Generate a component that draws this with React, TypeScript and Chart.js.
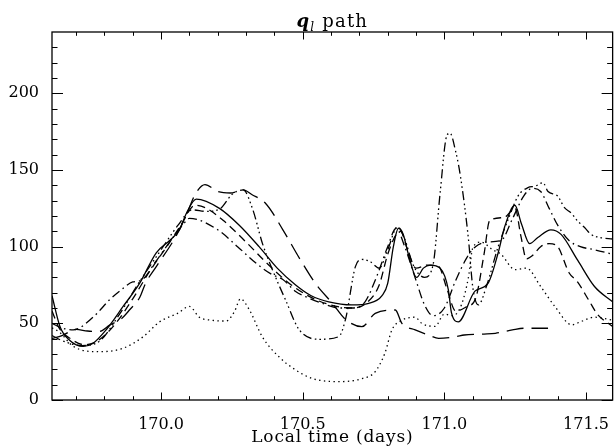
import React, { useEffect, useRef } from "react";
import { Chart, registerables } from "chart.js";

Chart.register(...registerables);

// ---- axis setup ----
const xMin = 169.615;
const xMax = 171.594;
const yMin = 0;
const yMax = 240;
const xTickVals = [170.0, 170.5, 171.0, 171.5];
const yTickVals = [0, 50, 100, 150, 200];
const xMinorVals = [169.7, 169.8, 169.9, 170.1, 170.2, 170.3, 170.4, 170.6, 170.7, 170.8, 170.9, 171.1, 171.2, 171.3, 171.4, 171.5];
const yMinorVals = [10, 20, 30, 40, 60, 70, 80, 90, 110, 120, 130, 140, 160, 170, 180, 190, 210, 220, 230];

const titleMain = "q";
const titleSub = "l";
const titleRest = " path";
const xTitle = "Local time (days)";

// ---- series: solid ----
const solidDays = [169.615, 169.643, 169.677, 169.725, 169.76, 169.807, 169.866, 169.924, 169.983, 170.03, 170.065, 170.09, 170.124, 170.206, 170.276, 170.346, 170.41, 170.475, 170.53, 170.592, 170.673, 170.733, 170.78, 170.8, 170.82, 170.838, 170.855, 170.873, 170.902, 170.926, 170.95, 170.985, 171.014, 171.025, 171.049, 171.108, 171.154, 171.19, 171.213, 171.249, 171.272, 171.301, 171.33, 171.376, 171.412, 171.471, 171.53, 171.594];
const solidVals = [68, 48, 39, 35, 37, 46, 61, 76, 96, 104, 111, 122, 131, 125, 114, 100, 86, 75, 68, 64, 62, 63, 68, 76, 100, 112, 108, 95, 80, 86, 88, 86, 72, 57, 51, 71, 76, 96, 113, 127, 115, 102, 106, 111, 108, 91, 74, 64];

// ---- series: dotted ----
const dottedDays = [169.615, 169.643, 169.69, 169.78, 169.865, 169.935, 169.995, 170.058, 170.1, 170.135, 170.18, 170.23, 170.26, 170.28, 170.311, 170.358, 170.417, 170.475, 170.534, 170.627, 170.71, 170.756, 170.79, 170.815, 170.85, 170.897, 170.92, 170.967, 171.0, 171.03, 171.06, 171.085, 171.1, 171.13, 171.17, 171.2, 171.25, 171.29, 171.34, 171.39, 171.45, 171.48, 171.53, 171.594];
const dottedVals = [47, 44, 35, 31.5, 33.7, 41, 51, 56.5, 61, 54, 52, 51.5, 58, 66, 59, 41, 28, 19.6, 14, 12, 14, 18.5, 30.5, 45.7, 52, 54, 50, 48, 56, 55, 62, 80, 99, 103, 98, 95, 85, 86, 74, 61, 49, 51, 54, 52];

// ---- series: dashed ----
const dashedDays = [169.615, 169.64, 169.68, 169.73, 169.78, 169.84, 169.9, 169.96, 170.02, 170.07, 170.12, 170.16, 170.22, 170.3, 170.38, 170.46, 170.54, 170.62, 170.68, 170.73, 170.77, 170.8, 170.83, 170.845, 170.87, 170.9, 170.94, 170.98, 171.01, 171.04, 171.08, 171.11, 171.14, 171.16, 171.21, 171.25, 171.27, 171.29, 171.31, 171.34, 171.37, 171.4, 171.44, 171.47, 171.51, 171.54, 171.594];
const dashedVals = [58, 47, 40, 36, 39, 50, 66, 84, 100, 114, 127, 125, 117, 103, 88, 75, 66, 61, 60, 64, 75, 95, 108, 110, 98, 86, 88, 87, 72, 58, 61, 66, 95, 117, 119, 125, 107, 92, 94, 100, 102, 100, 83, 77, 65, 56, 48];

// ---- series: dash-dot ----
const dashDotDays = [169.615, 169.65, 169.69, 169.76, 169.82, 169.866, 169.9, 169.93, 169.98, 170.03, 170.08, 170.1, 170.2, 170.27, 170.34, 170.39, 170.43, 170.475, 170.51, 170.57, 170.63, 170.68, 170.72, 170.76, 170.8, 170.83, 170.86, 170.9, 170.93, 170.96, 171.0, 171.04, 171.08, 171.11, 171.15, 171.2, 171.24, 171.28, 171.31, 171.34, 171.37, 171.4, 171.44, 171.48, 171.53, 171.594];
const dashDotVals = [50, 47, 45.7, 54, 65.7, 72.8, 77, 78, 90, 103, 115, 118.5, 111, 100, 88.5, 82, 78.6, 70.7, 67.4, 63, 60, 60, 64, 80, 100, 112, 100, 78, 62, 55, 60, 78, 93, 100, 103, 104, 118, 133, 138, 136, 125, 114, 104, 100, 98, 95];

// ---- series: dash-dot-dot-dot ----
const dash3DotDays = [169.615, 169.66, 169.72, 169.78, 169.85, 169.92, 170.0, 170.06, 170.11, 170.16, 170.21, 170.25, 170.29, 170.323, 170.358, 170.393, 170.44, 170.487, 170.557, 170.627, 170.651, 170.686, 170.709, 170.74, 170.77, 170.8, 170.835, 170.86, 170.89, 170.93, 170.96, 170.985, 171.008, 171.02, 171.04, 171.055, 171.085, 171.1, 171.12, 171.15, 171.19, 171.23, 171.26, 171.295, 171.32, 171.348, 171.366, 171.4, 171.424, 171.447, 171.47, 171.495, 171.518, 171.55, 171.594];
const dash3DotVals = [42, 38, 35.5, 38, 55, 76, 98, 114, 124, 123, 125, 134, 137, 124.6, 102, 85, 65, 46, 39.6, 41.3, 52.6, 87, 91.7, 90, 86, 98, 113, 105, 88, 80, 88, 135, 172, 174, 162, 148, 105, 74, 62, 75, 100, 120, 133, 138.5, 139.4, 141.7, 136, 133, 125.4, 122, 116.8, 112.5, 108, 106, 105];

// ---- series: long dash ----
const longDashDays = [169.615, 169.65, 169.7, 169.74, 169.78, 169.82, 169.86, 169.89, 169.925, 169.945, 169.983, 170.05, 170.09, 170.12, 170.155, 170.2, 170.245, 170.29, 170.32, 170.37, 170.43, 170.49, 170.545, 170.605, 170.651, 170.709, 170.756, 170.827, 170.85, 170.897, 170.944, 170.98, 171.04, 171.07, 171.14, 171.18, 171.24, 171.28, 171.366];
const longDashVals = [40, 42, 46, 45, 44.6, 49, 53, 59, 67, 76, 87, 106, 121, 134, 140.5, 136, 135, 137, 134, 128, 111, 92, 76, 63, 52.6, 47.8, 56.5, 58.7, 50, 45.7, 42.4, 40.2, 41.3, 42.4, 43, 43.5, 45.7, 46.8, 46.8];

const seriesDefs = [
  { label: "solid", days: solidDays, vals: solidVals, dash: [] as number[] },
  { label: "dotted", days: dottedDays, vals: dottedVals, dash: [1.4, 3.4] },
  { label: "dashed", days: dashedDays, vals: dashedVals, dash: [8, 5] },
  { label: "dash-dot", days: dashDotDays, vals: dashDotVals, dash: [9, 4, 1.6, 4] },
  { label: "dash-dot-dot-dot", days: dash3DotDays, vals: dash3DotVals, dash: [9, 3.5, 1.6, 3, 1.6, 3, 1.6, 3.5] },
  { label: "long dash", days: longDashDays, vals: longDashVals, dash: [17, 8] },
];

const FONT = "'DejaVu Serif', serif";

const framePlugin = {
  id: "idlFrame",
  afterDraw(chart: any) {
    const { ctx, chartArea } = chart;
    const xs = chart.scales.x;
    const ys = chart.scales.y;
    const { left, right, top, bottom } = chartArea;
    const w = right - left;
    const h = bottom - top;
    ctx.save();
    ctx.strokeStyle = "#000";
    ctx.lineWidth = 1.3;
    ctx.setLineDash([]);
    ctx.strokeRect(left, top, w, h);
    ctx.lineWidth = 1;
    const xMajLen = 7.5;
    const xMinLen = 3.8;
    const yMajLen = 11;
    const yMinLen = 5.5;
    ctx.beginPath();
    const xt = (v: number, len: number) => {
      const px = Math.round(xs.getPixelForValue(v)) + 0.5;
      ctx.moveTo(px, bottom);
      ctx.lineTo(px, bottom - len);
      ctx.moveTo(px, top);
      ctx.lineTo(px, top + len);
    };
    const yt = (v: number, len: number) => {
      const py = Math.round(ys.getPixelForValue(v)) + 0.5;
      ctx.moveTo(left, py);
      ctx.lineTo(left + len, py);
      ctx.moveTo(right, py);
      ctx.lineTo(right - len, py);
    };
    xTickVals.forEach((v) => xt(v, xMajLen));
    xMinorVals.forEach((v) => xt(v, xMinLen));
    yTickVals.forEach((v) => yt(v, yMajLen));
    yMinorVals.forEach((v) => yt(v, yMinLen));
    ctx.stroke();

    // titles
    ctx.fillStyle = "#000";
    ctx.textBaseline = "alphabetic";
    const cx = (left + right) / 2;
    const fMain = `italic bold 18px ${FONT}`;
    const fSub = `italic 12px ${FONT}`;
    const fRest = `18px ${FONT}`;
    (ctx as any).letterSpacing = "1.2px";
    ctx.font = fMain;
    const w1 = ctx.measureText(titleMain).width;
    ctx.font = fSub;
    const w2 = ctx.measureText(titleSub).width;
    ctx.font = fRest;
    const w3 = ctx.measureText(titleRest).width;
    let tx = cx - (w1 + w2 + w3) / 2;
    const base = 27;
    ctx.textAlign = "left";
    ctx.font = fMain;
    ctx.fillText(titleMain, tx, base);
    tx += w1;
    ctx.font = fSub;
    ctx.fillText(titleSub, tx, base + 4);
    tx += w2;
    ctx.font = fRest;
    ctx.fillText(titleRest, tx, base);

    (ctx as any).letterSpacing = "0.8px";
    ctx.font = `17px ${FONT}`;
    ctx.textAlign = "center";
    ctx.textBaseline = "middle";
    ctx.fillText(xTitle, cx, 438);
    (ctx as any).letterSpacing = "0px";
    ctx.restore();
  },
};

export default function App() {
  const ref = useRef<HTMLCanvasElement | null>(null);
  useEffect(() => {
    if (!ref.current) return;
    const datasets = seriesDefs.map((s) => ({
      label: s.label,
      data: s.days.map((d, i) => ({ x: d, y: s.vals[i] })),
      borderColor: "#000",
      backgroundColor: "#000",
      borderWidth: 1.3,
      borderDash: s.dash,
      borderCapStyle: "butt" as const,
      pointRadius: 0,
      fill: false,
      cubicInterpolationMode: "monotone" as const,
    }));
    const chart = new Chart(ref.current, {
      type: "line",
      data: { datasets },
      options: {
        responsive: false,
        animation: false,
        events: [],
        layout: { padding: { left: 0, right: 2, top: 32, bottom: 0 } },
        plugins: { legend: { display: false }, tooltip: { enabled: false }, title: { display: false } },
        scales: {
          x: {
            type: "linear",
            min: xMin,
            max: xMax,
            grid: { display: false },
            border: { display: false },
            afterBuildTicks: (s: any) => {
              s.ticks = xTickVals.map((v) => ({ value: v }));
            },
            afterFit: (s: any) => {
              s.height = 48;
            },
            ticks: {
              color: "#000",
              font: { family: FONT, size: 16 },
              padding: 7,
              maxRotation: 0,
              autoSkip: false,
              callback: (v: any) => Number(v).toFixed(1),
            },
          },
          y: {
            type: "linear",
            min: yMin,
            max: yMax,
            grid: { display: false },
            border: { display: false },
            afterBuildTicks: (s: any) => {
              s.ticks = yTickVals.map((v) => ({ value: v }));
            },
            afterFit: (s: any) => {
              s.width = 52;
            },
            ticks: {
              color: "#000",
              font: { family: FONT, size: 16 },
              padding: 5,
              autoSkip: false,
              callback: (v: any) => String(v),
            },
          },
        },
      },
      plugins: [framePlugin],
    });
    return () => chart.destroy();
  }, []);
  return (
    <div style={{ position: "fixed", left: 0, top: 0, width: 616, height: 448, background: "#fff" }}>
      <canvas ref={ref} width={616} height={448} style={{ display: "block", width: 616, height: 448 }} />
    </div>
  );
}
